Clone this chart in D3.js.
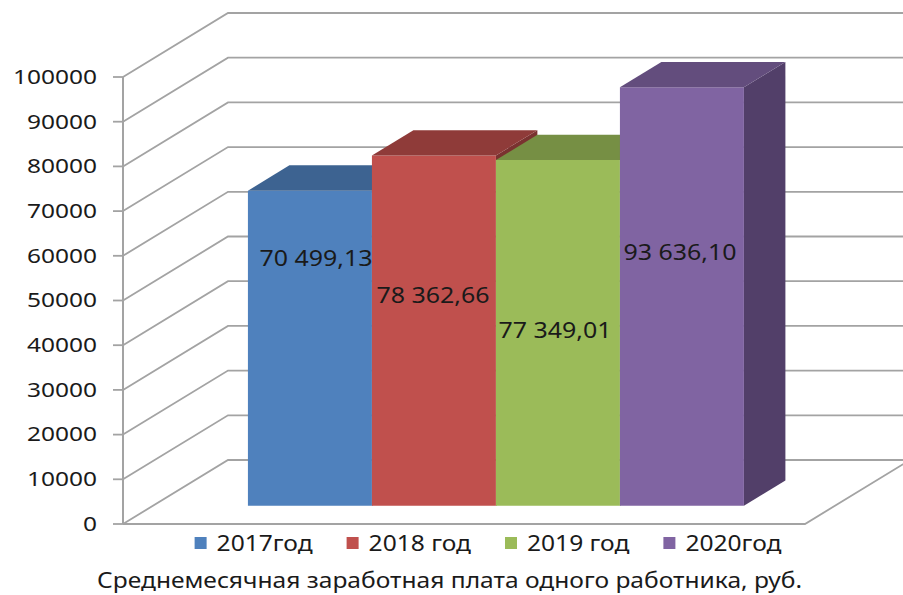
<!DOCTYPE html>
<html><head><meta charset="utf-8">
<script src="https://cdn.jsdelivr.net/npm/d3@7"></script>
<style>html,body{margin:0;padding:0;background:#fff;}svg{display:block;}</style>
</head><body>
<svg id="chart" width="903" height="595"></svg>
<script>
// ---- data ----
const categories = ["2017год", "2018 год", "2019 год", "2020год"];
const values = [70499.13, 78362.66, 77349.01, 93636.10];
const valueLabels = ["70 499,13", "78 362,66", "77 349,01", "93 636,10"];
const yTicks = [0, 10000, 20000, 30000, 40000, 50000, 60000, 70000, 80000, 90000, 100000];
const title = "Среднемесячная заработная плата одного работника, руб.";

// ---- styles / layout ----
const frontColors = ["#4F81BD", "#C0504D", "#9BBB59", "#8064A2"];
const topColors = ["#3D6391", "#8F3B39", "#768F44", "#634D7D"];
const sideColors = ["#34557C", "#7A3230", "#657A3A", "#523F69"];
const labelAt = [55300, 47100, 39300, 56700];   // label vertical position, in value units
const labelDx = [6, -1, -3, -2];
const gridColor = "#A3A3A3";
const font = "'Noto Sans', 'DejaVu Sans', sans-serif";
const textColor = "#1A1A1A";

const W = 903, H = 595;
const X0 = 123, Y0 = 524, PW = 682;   // front floor edge
const DX = 105, DY = -64;             // full depth offset
const dFront = 0.285, dBack = 0.68;   // bar depth span

const svg = d3.select("#chart");
const defs = svg.append("defs");
defs.append("clipPath").attr("id", "clip").append("rect").attr("width", W).attr("height", H);
const g = svg.append("g").attr("clip-path", "url(#clip)");

const y = d3.scaleLinear().domain([0, 100000]).range([Y0, 77]);
const x = d3.scaleBand().domain(categories).range([X0 + 2, X0 + PW + 2]).paddingInner(0).paddingOuter(0.75);
const P = (px, py, d) => [px + d * DX, py + d * DY];
const poly = pts => "M" + pts.map(p => p.join(",")).join("L") + "Z";

// left wall gridlines + back wall gridlines
const grid = g.append("g").attr("fill", "none").attr("stroke", gridColor).attr("stroke-width", 1.8);
yTicks.forEach(t => {
  const a = [X0, y(t)], b = P(X0, y(t), 1), c = P(X0 + PW, y(t), 1);
  grid.append("path").attr("d", "M" + a + "L" + b + "L" + c);
});
// floor
grid.append("path").attr("d", "M" + [X0, Y0] + "L" + [X0 + PW, Y0] + "L" + P(X0 + PW, Y0, 1));

// y axis
const ax = g.append("g");
ax.append("line").attr("x1", X0).attr("x2", X0).attr("y1", y(100000)).attr("y2", Y0)
  .attr("stroke", gridColor).attr("stroke-width", 2);
yTicks.forEach(t => {
  ax.append("line").attr("x1", X0 - 10).attr("x2", X0).attr("y1", y(t)).attr("y2", y(t))
    .attr("stroke", gridColor).attr("stroke-width", 1.8);
  const s = String(t);
  ax.append("text").attr("x", 97).attr("y", y(t)).attr("dy", "0.36em")
    .attr("text-anchor", "end").attr("font-family", font).attr("font-size", 19)
    .attr("fill", textColor)
    .attr("textLength", s.length * 14).attr("lengthAdjust", "spacingAndGlyphs")
    .text(s);
});

// bars
const bars = g.append("g");
categories.forEach((c, i) => {
  const x1 = x(c), x2 = x(c) + x.bandwidth();
  const yt = y(values[i]), yb = y(0);
  const fbl = P(x1, yb, dFront), fbr = P(x2, yb, dFront), ftl = P(x1, yt, dFront), ftr = P(x2, yt, dFront);
  const btl = P(x1, yt, dBack), btr = P(x2, yt, dBack), bbr = P(x2, yb, dBack);
  bars.append("path").attr("d", poly([ftr, btr, bbr, fbr])).attr("fill", sideColors[i]);
  bars.append("path").attr("d", poly([fbl, ftl, ftr, fbr])).attr("fill", frontColors[i]);
  bars.append("path").attr("d", poly([ftl, btl, btr, ftr])).attr("fill", topColors[i]);
});

// value labels
categories.forEach((c, i) => {
  const cx = P(x(c) + x.bandwidth() / 2, y(labelAt[i]), dFront);
  g.append("text").attr("x", cx[0] + labelDx[i]).attr("y", cx[1]).attr("dy", "0.36em")
    .attr("text-anchor", "middle").attr("font-family", font).attr("font-size", 21)
    .attr("fill", textColor)
    .attr("textLength", 113).attr("lengthAdjust", "spacingAndGlyphs")
    .text(valueLabels[i]);
});

// legend
const stretch = 1.17;
const leg = svg.append("g");
const items = categories.map((c, i) => {
  const it = leg.append("g");
  it.append("rect").attr("width", 12).attr("height", 12).attr("y", -6).attr("fill", frontColors[i]);
  const t = it.append("text").attr("x", 22).attr("dy", "0.36em")
    .attr("font-family", font).attr("font-size", 21).attr("fill", textColor).text(c);
  const w = t.node().getComputedTextLength() * stretch;
  t.attr("textLength", w).attr("lengthAdjust", "spacingAndGlyphs");
  return { it, w: 22 + w };
});
const gap = 34;
const total = d3.sum(items, d => d.w) + gap * (items.length - 1);
let lx = 488 - total / 2;
items.forEach(d => { d.it.attr("transform", `translate(${lx},543)`); lx += d.w + gap; });

// title
const tt = svg.append("text").attr("x", 449.5).attr("y", 580).attr("dy", "0.36em")
  .attr("text-anchor", "middle").attr("font-family", font).attr("font-size", 21)
  .attr("fill", textColor).text(title);
tt.attr("textLength", 705).attr("lengthAdjust", "spacingAndGlyphs");
</script>
</body></html>
